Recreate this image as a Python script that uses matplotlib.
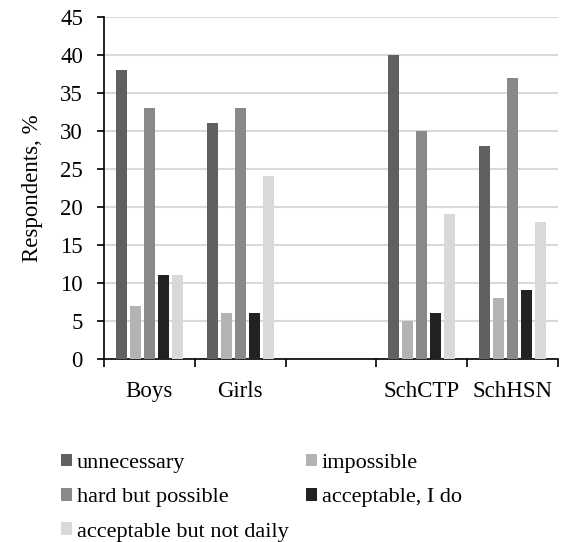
import matplotlib.pyplot as plt
import numpy as np

plt.rcParams['font.family'] = ['Liberation Serif', 'DejaVu Serif']

groups = ["Boys", "Girls", "", "SchCTP", "SchHSN"]
series = ["unnecessary", "impossible", "hard but possible",
          "acceptable, I do", "acceptable but not daily"]
unnecessary = [38, 31, 0, 40, 28]
impossible = [7, 6, 0, 5, 8]
hard_but_possible = [33, 33, 0, 30, 37]
acceptable_i_do = [11, 6, 0, 6, 9]
acceptable_not_daily = [11, 24, 0, 19, 18]
colors = ["#606060", "#b3b3b3", "#898989", "#222222", "#d9d9d9"]

values = [unnecessary, impossible, hard_but_possible, acceptable_i_do, acceptable_not_daily]

fig = plt.figure(figsize=(5.61, 5.42), dpi=100)
ax = fig.add_axes([0.185, 0.338, 0.81, 0.631])

x = np.arange(len(groups))
step = 0.154
width = 0.122
handles = []
for i, (vals, c) in enumerate(zip(values, colors)):
    b = ax.bar(x + (i - 2) * step, vals, width=width, color=c, label=series[i], zorder=3)
    handles.append(b)

ax.set_xlim(-0.5, len(groups) - 0.5)
ax.set_ylim(0, 45)
ax.set_yticks(range(0, 46, 5))
ax.grid(axis="y", color="#d9d9d9", linewidth=1.5, zorder=0)

# category ticks sit between groups, labels centered
ax.set_xticks(np.arange(-0.5, len(groups), 1.0))
ax.set_xticklabels([])
ax.set_xticks(x, labels=groups, minor=True)
ax.tick_params(axis="x", which="minor", length=0, labelsize=16.5, pad=16)
ax.tick_params(axis="x", which="major", length=6, width=1.2, direction="out")
ax.tick_params(axis="y", labelsize=16.5, length=5, width=1.2, direction="out", pad=10)

for s in ["top", "right"]:
    ax.spines[s].set_visible(False)
ax.spines["left"].set_linewidth(1.2)
ax.spines["bottom"].set_linewidth(1.2)

ax.set_ylabel("Respondents, %", fontsize=16.5, labelpad=12)

order = [0, 2, 4, 1, 3]
fig.legend([handles[i] for i in order], [series[i] for i in order],
           ncol=2, loc="upper left", bbox_to_anchor=(0.109, 0.163),
           frameon=False, fontsize=16, handlelength=0.5, handleheight=0.5,
           handletextpad=0.2, columnspacing=0.8, labelspacing=0.68,
           borderaxespad=0, borderpad=0)

fig.savefig("out.png", dpi=100)
